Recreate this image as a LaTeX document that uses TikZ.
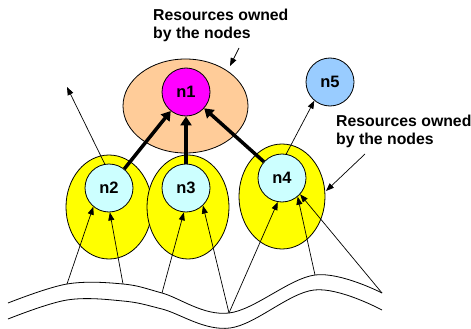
\documentclass[tikz,border=0pt]{standalone}
\usepackage{fontspec}
\setmainfont{Liberation Sans}
\usetikzlibrary{shapes.geometric,arrows.meta}
\definecolor{orangefill}{HTML}{FFCC99}
\definecolor{magentafill}{HTML}{FF00FF}
\definecolor{bluefill}{HTML}{99CCFF}
\definecolor{yellowfill}{HTML}{FFFF00}
\definecolor{cyanfill}{HTML}{CCFFFF}
\begin{document}
\begin{tikzpicture}[x=1pt,y=-1pt,
 res/.style={ellipse,draw,line width=0.8pt,inner sep=0pt},
 nd/.style={circle,draw,line width=0.8pt,minimum size=48pt,inner sep=0pt,font=\bfseries\fontsize{16.5}{20}\selectfont},
 lbl/.style={align=left,inner sep=0pt,anchor=north west,font=\bfseries\fontsize{15.8}{18.3}\selectfont},
 thinarrow/.style={line width=0.7pt,-{Triangle[length=8pt,width=6pt]}},
 thickarrow/.style={line width=3.5pt,-{Triangle[length=9pt,width=11pt]}},
 wave/.style={line width=0.8pt}]
\useasboundingbox (0,0) rectangle (471,329);
% resource ellipses
\node[res,fill=yellowfill,minimum width=86pt,minimum height=104pt] (e2) at (109,207) {};
\node[res,fill=yellowfill,minimum width=82pt,minimum height=104pt] (e3) at (188,207) {};
\node[res,fill=yellowfill,minimum width=86pt,minimum height=105pt] (e4) at (282,196.5) {};
\node[res,fill=orangefill,minimum width=125pt,minimum height=94pt] (e1) at (185.5,106) {};
% nodes
\node[nd,fill=magentafill] (n1) at (186,92) {n1};
\node[nd,fill=bluefill] (n5) at (330,82) {n5};
\node[nd,fill=cyanfill] (n2) at (109,188) {n2};
\node[nd,fill=cyanfill] (n3) at (186,188) {n3};
\node[nd,fill=cyanfill] (n4) at (282,178) {n4};
% labels
\node[lbl] (l1) at (153,8.5) {Resources owned\\by the nodes};
\node[lbl] (l2) at (336,114.5) {Resources owned\\by the nodes};
\coordinate (t1) at (239,48);
\coordinate (t2) at (230,66);
\coordinate (r1) at (365,154);
\coordinate (r2) at (326,191);
\draw[thinarrow] (t1) -- (t2);
\draw[thinarrow] (r1) -- (r2);
% wave
\draw[wave] plot[smooth,tension=0.6] coordinates {(8,303) (67,284) (123,284) (162,293) (229,313) (315,275) (382,293)};
\draw[wave] plot[smooth,tension=0.6] coordinates {(8,319) (67,300) (123,301) (162,309) (230,328) (314,290) (382,310)};
\coordinate (w1) at (67,284);
\coordinate (w2) at (123,284);
\coordinate (w3) at (162,293);
\coordinate (w4) at (229,313);
\coordinate (w5) at (315,275);
\coordinate (w6) at (382,293);
\coordinate (up) at (67,87);
% thick arrows
\draw[thickarrow] (n2) -- (n1);
\draw[thickarrow] (n3) -- (n1);
\draw[thickarrow] (n4) -- (n1);
% thin arrows
\draw[thinarrow] (n2.100) -- (up);
\draw[thinarrow] (n4.80) -- (n5.230);
\draw[thinarrow] (w1) -- (n2.230);
\draw[thinarrow] (w2) -- (n2.272);
\draw[thinarrow] (w3) -- (n3.265);
\draw[thinarrow] (w4) -- (n3.314);
\draw[thinarrow] (w4) -- (n4.260);
\draw[thinarrow] (w5) -- (n4.310);
\draw[thinarrow] (w6) -- (n4.318);
\end{tikzpicture}
\end{document}
